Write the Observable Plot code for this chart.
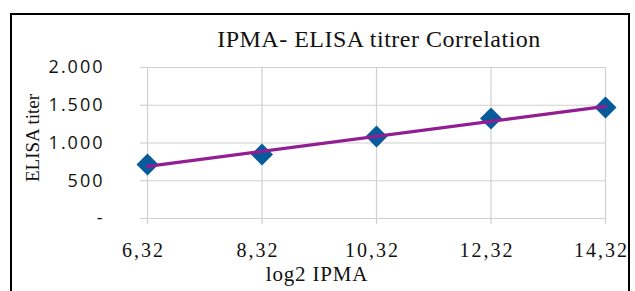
<!DOCTYPE html>
<html>
<head>
<meta charset="utf-8">
<script src="https://cdn.jsdelivr.net/npm/d3@7"></script>
<script src="https://cdn.jsdelivr.net/npm/@observablehq/plot@0.6"></script>
<style>
  html, body { margin: 0; padding: 0; background: #fff; }
  #wrap { position: relative; width: 635px; height: 291px; overflow: hidden; }
  #frame { position: absolute; left: 10px; top: 13px; width: 620px; height: 300px; border: 2px solid #000; box-sizing: border-box; pointer-events: none; }
  .lbl { position: absolute; font-family: "Liberation Serif", serif; color: #111; white-space: nowrap; line-height: 1; }
  #title { left: 0; width: 758px; top: 27px; text-align: center; font-size: 24px; letter-spacing: 0.5px; }
  #xlabel { left: 0; width: 634px; top: 264px; text-align: center; font-size: 21px; letter-spacing: 0.8px; }
  #ylabel { left: 32px; top: 138px; font-size: 19px; transform: translate(-50%, -50%) rotate(-90deg); }
  #chart { position: absolute; left: 0; top: 0; }
</style>
</head>
<body>
<div id="wrap">
  <div id="chart"></div>
  <div id="title" class="lbl">IPMA- ELISA titrer Correlation</div>
  <div id="xlabel" class="lbl">log2 IPMA</div>
  <div id="ylabel" class="lbl">ELISA titer</div>
  <div id="frame"></div>
</div>
<script>
const log2IPMA = [6.32, 8.32, 10.32, 12.32, 14.32];
const elisaTiter = [715, 848, 1086, 1325, 1470];
const xTicks = [6.32, 8.32, 10.32, 12.32, 14.32];
const yTicks = [0, 500, 1000, 1500, 2000];

const data = log2IPMA.map((x, i) => ({x, y: elisaTiter[i]}));

const fmtY = d => d === 0 ? "-" : d3.format(",")(d).replace(/,/g, ".");
const fmtX = d => d.toFixed(2).replace(".", ",");

const chart = Plot.plot({
  width: 635,
  height: 291,
  marginLeft: 147,
  marginRight: 30,
  marginTop: 67,
  marginBottom: 73,
  style: {background: "transparent", overflow: "visible"},
  x: {domain: [6.32, 14.32]},
  y: {domain: [0, 2000]},
  marks: [
    Plot.gridY(yTicks, {stroke: "#d0d0d0", strokeOpacity: 1, strokeWidth: 1.2}),
    Plot.gridX(xTicks, {stroke: "#d0d0d0", strokeOpacity: 1, strokeWidth: 1.2}),
    Plot.axisY(yTicks, {
      tickSize: 7, tickPadding: 36, tickFormat: fmtY, stroke: "#d0d0d0", strokeWidth: 1.2,
      fontFamily: "Open Sans, sans-serif", fontSize: 18, fill: "#111", label: null
    }),
    Plot.axisX(xTicks, {
      tickSize: 6, tickPadding: 18, tickFormat: fmtX, stroke: "#d0d0d0", strokeWidth: 1.2,
      fontFamily: "Liberation Serif, serif", fontSize: 20, fill: "#111", label: null
    }),
    Plot.dot(data, {x: "x", y: "y", symbol: "diamond2", r: 9.9, fill: "#075b9b", stroke: "none"}),
    Plot.linearRegressionY(data, {x: "x", y: "y", stroke: "#931d93", strokeWidth: 3.2, ci: 0})
  ]
});
document.getElementById("chart").appendChild(chart);

d3.select(chart).selectAll("[aria-label='y-axis tick label'] text").attr("letter-spacing", "2px");
d3.select(chart).selectAll("[aria-label='x-axis tick label'] text").attr("letter-spacing", "2px").attr("dx", -4);
</script>
</body>
</html>
